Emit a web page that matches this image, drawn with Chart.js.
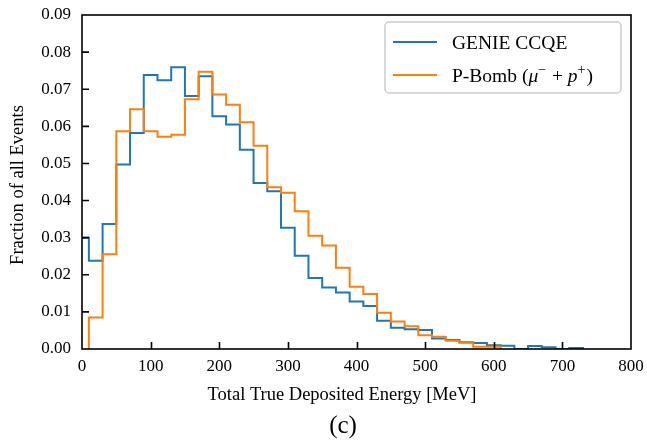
<!DOCTYPE html>
<html>
<head>
<meta charset="utf-8">
<script src="https://cdn.jsdelivr.net/npm/chart.js@4/dist/chart.umd.min.js"></script>
<style>
  html, body { margin: 0; padding: 0; background: #ffffff; }
  canvas { display: block; }
</style>
</head>
<body>
<canvas id="histChart" width="647" height="442"></canvas>
<script>
// Bords gauches des intervalles (MeV), largeur 20
const binEdges = [-10, 10, 30, 50, 70, 90, 110, 130, 150, 170, 190, 210, 230, 250, 270, 290,
  310, 330, 350, 370, 390, 410, 430, 450, 470, 490, 510, 530, 550, 570, 590, 610, 630,
  650, 670, 690, 710, 730];

// GENIE CCQE (fraction par intervalle)
const genieValues = [0.0300, 0.0238, 0.0337, 0.0497, 0.0582, 0.0738, 0.0724, 0.0759, 0.0682,
  0.0735, 0.0627, 0.0605, 0.0537, 0.0447, 0.0425, 0.0327, 0.0251, 0.0191, 0.0166, 0.0152,
  0.0128, 0.0116, 0.0076, 0.0057, 0.0053, 0.0051, 0.0028, 0.0024, 0.0018, 0.0016, 0.0010,
  0.0009, 0.0000, 0.0008, 0.0005, 0.0000, 0.0003];

// P-Bomb (mu- + p+)
const pbombValues = [null, 0.0085, 0.0255, 0.0587, 0.0646, 0.0587, 0.0572, 0.0577, 0.0673,
  0.0747, 0.0686, 0.0658, 0.0611, 0.0548, 0.0436, 0.0421, 0.0371, 0.0305, 0.0279, 0.0219,
  0.0168, 0.0148, 0.0098, 0.0074, 0.0061, 0.0037, 0.0033, 0.0022, 0.0017, 0.0006, 0.0006,
  null, null, null, null, null, null];

const seriesLabels = ['GENIE CCQE', 'P-Bomb (\u03BC\u207B + p\u207A)'];
const xTicks = [0, 100, 200, 300, 400, 500, 600, 700, 800];
const yTicks = [0, 0.01, 0.02, 0.03, 0.04, 0.05, 0.06, 0.07, 0.08, 0.09];

const BLUE = '#1f77b4';
const ORANGE = '#ff7f0e';
const SERIF = '"Liberation Serif", "Times New Roman", serif';

// Construction des points en escalier (histtype step)
function stepPoints(values) {
    let first = values.findIndex(v => v !== null);
    let last = values.length - 1;
    while (values[last] === null) last--;
    const pts = [{ x: binEdges[first], y: 0 }];
    for (let i = first; i <= last; i++) {
        pts.push({ x: binEdges[i], y: values[i] });
    }
    pts.push({ x: binEdges[last + 1], y: 0 });
    return pts;
}

// Cadre, graduations internes, légende et titres
const decorPlugin = {
    id: 'decor',
    afterDatasetsDraw(chart) {
        const ctx = chart.ctx;
        const a = chart.chartArea;
        const xs = chart.scales.x, ys = chart.scales.y;
        ctx.save();
        ctx.strokeStyle = '#000';
        ctx.lineWidth = 1.6;
        ctx.strokeRect(a.left, a.top, a.right - a.left, a.bottom - a.top);
        ctx.lineWidth = 1.6;
        ctx.beginPath();
        xTicks.slice(1, -1).forEach(v => {
            const px = Math.round(xs.getPixelForValue(v)) + 0.5;
            ctx.moveTo(px, a.bottom);
            ctx.lineTo(px, a.bottom - 7);
        });
        yTicks.slice(1, -1).forEach(v => {
            const py = ys.getPixelForValue(v);
            ctx.moveTo(a.left, py);
            ctx.lineTo(a.left + 7, py);
        });
        ctx.stroke();
        ctx.restore();
    },
    afterDraw(chart) {
        const ctx = chart.ctx;
        const a = chart.chartArea;
        ctx.save();

        // Légende
        const bx = 385, by = 22, bw = 236, bh = 71, r = 4;
        ctx.beginPath();
        ctx.moveTo(bx + r, by);
        ctx.arcTo(bx + bw, by, bx + bw, by + bh, r);
        ctx.arcTo(bx + bw, by + bh, bx, by + bh, r);
        ctx.arcTo(bx, by + bh, bx, by, r);
        ctx.arcTo(bx, by, bx + bw, by, r);
        ctx.closePath();
        ctx.fillStyle = 'rgba(255,255,255,0.8)';
        ctx.fill();
        ctx.strokeStyle = '#cccccc';
        ctx.lineWidth = 1.5;
        ctx.stroke();

        const rows = [{ y: 42, color: BLUE }, { y: 75, color: ORANGE }];
        rows.forEach(row => {
            ctx.strokeStyle = row.color;
            ctx.lineWidth = 2;
            ctx.beginPath();
            ctx.moveTo(393, row.y);
            ctx.lineTo(437, row.y);
            ctx.stroke();
        });

        ctx.fillStyle = '#000';
        ctx.textBaseline = 'alphabetic';
        ctx.textAlign = 'left';
        ctx.font = '19.5px ' + SERIF;
        ctx.fillText(seriesLabels[0], 452, 49);

        // Libellé P-Bomb avec exposants
        const runs = [
            { t: 'P-Bomb (', f: '19.5px ' + SERIF, dy: 0 },
            { t: '\u03BC', f: 'italic 19.5px ' + SERIF, dy: 0 },
            { t: '\u2212', f: '14px ' + SERIF, dy: -8 },
            { t: ' + ', f: '19.5px ' + SERIF, dy: 0 },
            { t: 'p', f: 'italic 19.5px ' + SERIF, dy: 0 },
            { t: '+', f: '14px ' + SERIF, dy: -8 },
            { t: ')', f: '19.5px ' + SERIF, dy: 0 }
        ];
        let tx = 452;
        runs.forEach(run => {
            ctx.font = run.f;
            ctx.fillText(run.t, tx, 82 + run.dy);
            tx += ctx.measureText(run.t).width + (run.dy ? 1 : 0);
        });

        // Titres des axes
        ctx.font = '18.5px ' + SERIF;
        ctx.textAlign = 'center';
        ctx.textBaseline = 'middle';
        ctx.fillText('Total True Deposited Energy [MeV]', 342, 395);
        ctx.save();
        ctx.translate(18, 185);
        ctx.rotate(-Math.PI / 2);
        ctx.fillText('Fraction of all Events', 0, 0);
        ctx.restore();

        ctx.font = '25px ' + SERIF;
        ctx.fillText('(c)', 343, 426);
        ctx.restore();
    }
};

new Chart(document.getElementById('histChart'), {
    type: 'line',
    data: {
        datasets: [{
            label: seriesLabels[0],
            data: stepPoints(genieValues),
            borderColor: BLUE,
            borderWidth: 2,
            stepped: 'before',
            pointRadius: 0,
            fill: false,
            order: 1
        }, {
            label: seriesLabels[1],
            data: stepPoints(pbombValues),
            borderColor: ORANGE,
            borderWidth: 2,
            stepped: 'before',
            pointRadius: 0,
            fill: false,
            order: 0
        }]
    },
    options: {
        responsive: false,
        animation: false,
        events: [],
        layout: { padding: { left: 0, right: 16, top: 15, bottom: 0 } },
        plugins: {
            legend: { display: false },
            tooltip: { enabled: false }
        },
        scales: {
            x: {
                type: 'linear',
                min: 0,
                max: 800,
                afterFit(scale) {
                    scale.height = 93;
                    scale.paddingLeft = 0;
                    scale.paddingRight = 0;
                },
                afterBuildTicks(scale) { scale.ticks = xTicks.map(v => ({ value: v })); },
                grid: { display: false, drawTicks: false },
                border: { display: false },
                ticks: {
                    padding: 7,
                    color: '#000',
                    font: { family: SERIF, size: 17 },
                    maxRotation: 0,
                    callback: v => String(v)
                }
            },
            y: {
                min: 0,
                max: 0.09,
                afterFit(scale) {
                    scale.width = 82;
                    scale.paddingTop = 0;
                    scale.paddingBottom = 0;
                },
                afterBuildTicks(scale) { scale.ticks = yTicks.map(v => ({ value: v })); },
                grid: { display: false, drawTicks: false },
                border: { display: false },
                ticks: {
                    padding: 11,
                    color: '#000',
                    font: { family: SERIF, size: 17 },
                    callback: v => v.toFixed(2)
                }
            }
        }
    },
    plugins: [decorPlugin]
});
</script>
</body>
</html>
